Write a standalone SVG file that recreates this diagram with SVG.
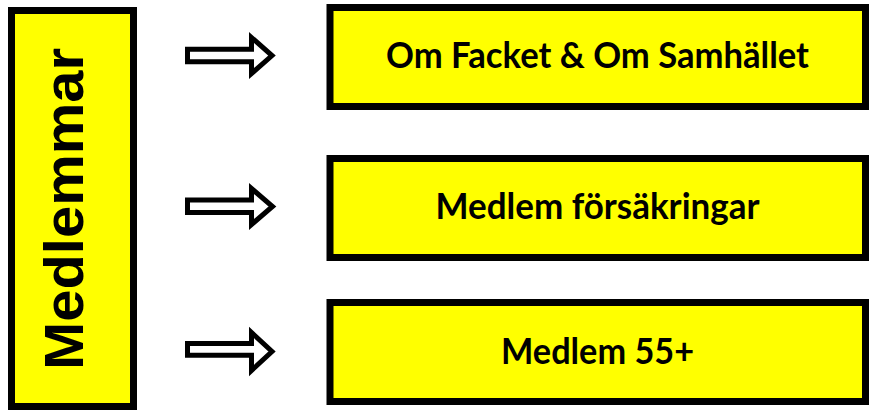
<svg xmlns="http://www.w3.org/2000/svg" width="870" height="411" viewBox="0 0 870 411">
<style>
.box{fill:#ffff00;stroke:#000;stroke-width:7}
.arr{fill:#fff;stroke:#000;stroke-width:5;stroke-linejoin:miter}
.lbl{font-family:Lato,"Open Sans","Liberation Sans",sans-serif;font-weight:bold;font-size:36px;fill:#000;text-anchor:middle}
.big{font-family:"Liberation Sans",Arial,sans-serif;font-weight:bold;font-size:56px;fill:#000;text-anchor:middle}
</style>
<rect width="870" height="411" fill="#fff"/>
<g id="medlemmar">
<rect class="box" x="11.5" y="10.5" width="122" height="396"/>
<text class="big" transform="translate(83,209) rotate(-90)" textLength="322" lengthAdjust="spacingAndGlyphs">Medlemmar</text>
</g>
<g id="connectors">
<polygon class="arr" points="187.5,49.3 251.5,49.3 251.5,37.5 272,55.6 251.5,73.5 251.5,61.8 187.5,61.8"/>
<polygon class="arr" points="187.5,200 251.5,200 251.5,188.5 272.5,206.5 251.5,224.5 251.5,212.5 187.5,212.5"/>
<polygon class="arr" points="187.5,343.5 251.5,343.5 251.5,332.5 272,351.5 251.5,370.5 251.5,355.3 187.5,355.3"/>
</g>
<g id="om-facket">
<rect class="box" x="330" y="7.5" width="535.5" height="99"/>
<text class="lbl" x="597.5" y="68" textLength="423" lengthAdjust="spacingAndGlyphs">Om Facket &amp; Om Samhället</text>
</g>
<g id="medlem-forsakringar">
<rect class="box" x="330" y="158.5" width="535.5" height="99"/>
<text class="lbl" x="597.5" y="219" textLength="324" lengthAdjust="spacingAndGlyphs">Medlem försäkringar</text>
</g>
<g id="medlem-55">
<rect class="box" x="330" y="302.5" width="535.5" height="99"/>
<text class="lbl" x="597.5" y="363.5" textLength="193" lengthAdjust="spacingAndGlyphs">Medlem 55+</text>
</g>
</svg>
